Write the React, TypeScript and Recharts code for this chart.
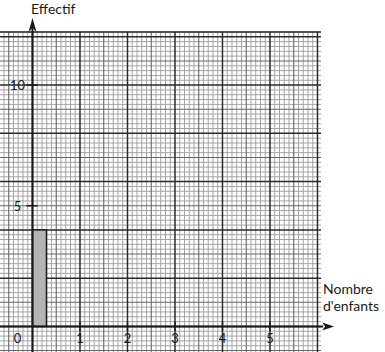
import React from 'react';
import {
  ComposedChart,
  XAxis,
  YAxis,
  Bar,
  CartesianGrid,
  ReferenceLine,
  ReferenceDot,
} from 'recharts';

// data
const enfants = [0];
const effectifs = [4];
const xTicks = [1, 2, 3, 4, 5];
const yTicks = [5, 10];

// grid paper : 10 small squares per child, 5 per unit of effectif
const xSteps = Array.from({ length: 67 }, (_, i) => i - 6); // tenths of a child
const ySteps = Array.from({ length: 67 }, (_, i) => i - 5); // fifths of effectif

const X_DOMAIN: [number, number] = [-0.684, 6.074];
const Y_DOMAIN: [number, number] = [-1.06, 12.2];

const FONT = 'Lato, "Open Sans", sans-serif';
const INK = '#1a1a1a';

const level = (i: number) => (i % 10 === 0 ? 2 : i % 5 === 0 ? 1 : 0);
const gridStyles = [
  { stroke: '#a4a4a4', strokeWidth: 1 },
  { stroke: '#666666', strokeWidth: 1.1 },
  { stroke: '#2a2a2a', strokeWidth: 1.5 },
];

const BarShape = (props: any) => (
  <rect
    x={props.x + props.width / 2}
    y={props.y}
    width={props.width}
    height={props.height}
    fill="#b4b4b4"
    stroke={INK}
    strokeWidth={1.5}
  />
);

export default function App() {
  const data = enfants.map((n, i) => ({ enfants: n, effectif: effectifs[i] }));

  const grids = [0, 1, 2].map((lv) => (
    <CartesianGrid
      key={`grid${lv}`}
      {...gridStyles[lv]}
      verticalValues={xSteps.filter((i) => level(i) === lv).map((i) => i / 10)}
      horizontalValues={ySteps.filter((i) => level(i) === lv).map((i) => i / 5)}
    />
  ));

  return (
    <div style={{ position: 'absolute', left: 0, top: 0, width: 385, height: 352, background: '#fff' }}>
      <ComposedChart
        width={385}
        height={352}
        data={data}
        margin={{ top: 32, right: 64, bottom: 0, left: 0 }}
      >
        <XAxis
          dataKey="enfants"
          type="number"
          domain={X_DOMAIN}
          allowDataOverflow
          interval={0}
          minTickGap={0}
          hide
        />
        <YAxis
          type="number"
          domain={Y_DOMAIN}
          allowDataOverflow
          interval={0}
          minTickGap={0}
          hide
        />

        {grids}
        {/* top border of the sheet */}
        <ReferenceLine y={12.2} stroke="#2a2a2a" strokeWidth={1.5} />

        <Bar
          dataKey="effectif"
          barSize={14}
          shape={BarShape}
          isAnimationActive={false}
        />

        {/* axes */}
        <ReferenceLine
          segment={[{ x: -0.684, y: 0 }, { x: 6.12, y: 0 }]}
          stroke={INK}
          strokeWidth={2}
          ifOverflow="visible"
        />
        <ReferenceLine
          segment={[{ x: 0, y: -1.06 }, { x: 0, y: 12.5 }]}
          stroke={INK}
          strokeWidth={2}
          ifOverflow="visible"
        />
        <ReferenceDot
          x={6.35}
          y={0}
          ifOverflow="visible"
          shape={(p: any) => (
            <polygon
              points={`${p.cx},${p.cy} ${p.cx - 12},${p.cy - 4} ${p.cx - 9},${p.cy} ${p.cx - 12},${p.cy + 4}`}
              fill={INK}
            />
          )}
        />
        <ReferenceDot
          x={0}
          y={12.78}
          ifOverflow="visible"
          shape={(p: any) => (
            <polygon
              points={`${p.cx},${p.cy} ${p.cx - 4},${p.cy + 14} ${p.cx},${p.cy + 10} ${p.cx + 4},${p.cy + 14}`}
              fill={INK}
            />
          )}
        />

        {/* ticks */}
        {xTicks.map((t) => (
          <ReferenceLine
            key={`tx${t}`}
            segment={[{ x: t, y: -0.19 }, { x: t, y: 0.19 }]}
            stroke={INK}
            strokeWidth={1.5}
          />
        ))}
        {yTicks.map((t) => (
          <ReferenceLine
            key={`ty${t}`}
            segment={[{ x: -0.13, y: t }, { x: 0.11, y: t }]}
            stroke={INK}
            strokeWidth={1.5}
          />
        ))}
        {xTicks.map((t) => (
          <ReferenceDot
            key={`lx${t}`}
            x={t}
            y={0}
            shape={(p: any) => (
              <text
                x={p.cx}
                y={p.cy + 17}
                textAnchor="middle"
                fontSize={13}
                fontFamily={FONT}
                fill={INK}
              >
                {t}
              </text>
            )}
          />
        ))}
        {[0, ...yTicks].map((t) => (
          <ReferenceDot
            key={`ly${t}`}
            x={0}
            y={t}
            shape={(p: any) => (
              <text
                x={p.cx - 15}
                y={t === 0 ? p.cy + 17 : p.cy + 5}
                textAnchor="middle"
                fontSize={13}
                fontFamily={FONT}
                fill={INK}
              >
                {t}
              </text>
            )}
          />
        ))}
      </ComposedChart>

      <div
        style={{
          position: 'absolute',
          left: 31,
          top: 0,
          fontFamily: FONT,
          fontSize: 14,
          color: INK,
          lineHeight: '17px',
        }}
      >
        Effectif
      </div>
      <div
        style={{
          position: 'absolute',
          left: 323,
          top: 280,
          fontFamily: FONT,
          fontSize: 14,
          color: INK,
          lineHeight: '17px',
        }}
      >
        Nombre
        <br />
        d'enfants
      </div>
    </div>
  );
}
